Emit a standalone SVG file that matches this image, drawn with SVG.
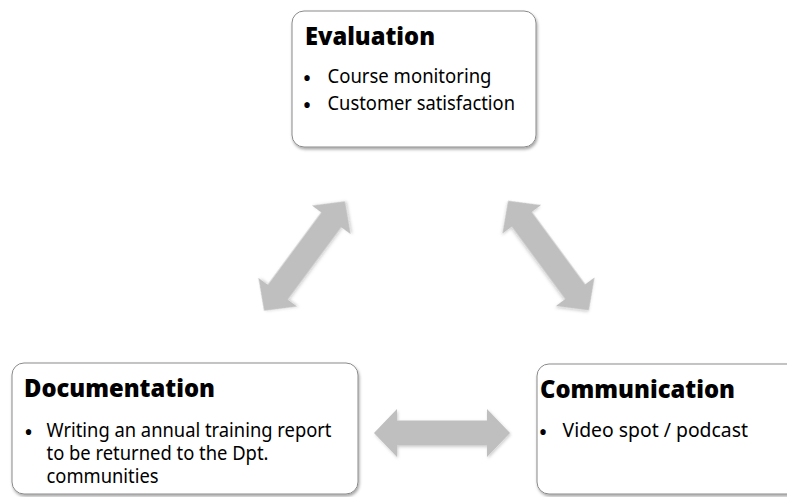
<svg xmlns="http://www.w3.org/2000/svg" width="787" height="497" viewBox="0 0 787 497">
<defs>
<filter id="sh" x="-10%" y="-10%" width="120%" height="130%">
<feDropShadow dx="1" dy="2" stdDeviation="1.5" flood-color="#000" flood-opacity="0.35"/>
</filter>
<filter id="ash" x="-20%" y="-20%" width="140%" height="140%">
<feDropShadow dx="1" dy="1.5" stdDeviation="1.5" flood-color="#000" flood-opacity="0.2"/>
</filter>
<path id="arr" d="M -68 0 L -45 -24 L -45 -12.5 L 45 -12.5 L 45 -24 L 68 0 L 45 24 L 45 12.5 L -45 12.5 L -45 24 Z"/>
</defs>
<style>
.box{fill:#fff;stroke:#8a8a8a;stroke-width:1;filter:url(#sh)}
.t{font-family:"Noto Sans","Open Sans",sans-serif;font-weight:900;font-size:25px;fill:#000}
.b{font-family:"Noto Sans","Open Sans",sans-serif;font-size:20px;fill:#000}
.s{font-family:"Noto Sans","Open Sans",sans-serif;font-size:19px;fill:#000}
.d{font-family:"Noto Sans","Open Sans",sans-serif;font-size:24px;fill:#000;text-anchor:middle}
.a{fill:#bfbfbf;filter:url(#ash)}
</style>
<g id="connectors">
<use href="#arr" class="a" transform="translate(304.5,256) rotate(-53.5)"/>
<use href="#arr" class="a" transform="translate(548.5,255.5) rotate(53.6)"/>
<use href="#arr" class="a" transform="translate(442,433)"/>
</g>
<g id="evaluation">
<rect class="box" x="292" y="11" width="244" height="136" rx="12"/>
<text class="t" x="305" y="44.5" textLength="130" lengthAdjust="spacingAndGlyphs">Evaluation</text>
<text class="d" x="307" y="87">•</text>
<text class="b" x="327.5" y="83" textLength="164" lengthAdjust="spacingAndGlyphs">Course monitoring</text>
<text class="d" x="307" y="114">•</text>
<text class="b" x="327.5" y="110" textLength="187.5" lengthAdjust="spacingAndGlyphs">Customer satisfaction</text>
</g>
<g id="documentation">
<rect class="box" x="12" y="363" width="346" height="131" rx="12"/>
<text class="t" x="24" y="397" textLength="191" lengthAdjust="spacingAndGlyphs">Documentation</text>
<text class="d" x="28.5" y="440.5">•</text>
<text class="s" x="46.5" y="436.7" textLength="285" lengthAdjust="spacingAndGlyphs">Writing an annual training report</text>
<text class="s" x="46.5" y="460" textLength="222" lengthAdjust="spacingAndGlyphs">to be returned to the Dpt.</text>
<text class="s" x="46.5" y="483.3" textLength="112" lengthAdjust="spacingAndGlyphs">communities</text>
</g>
<g id="communication">
<rect class="box" x="537" y="364" width="270" height="130" rx="12"/>
<text class="t" x="540" y="398" textLength="195" lengthAdjust="spacingAndGlyphs">Communication</text>
<text class="d" x="543" y="440.5">•</text>
<text class="b" x="562.5" y="436.7" textLength="185.5" lengthAdjust="spacingAndGlyphs">Video spot / podcast</text>
</g>
</svg>
